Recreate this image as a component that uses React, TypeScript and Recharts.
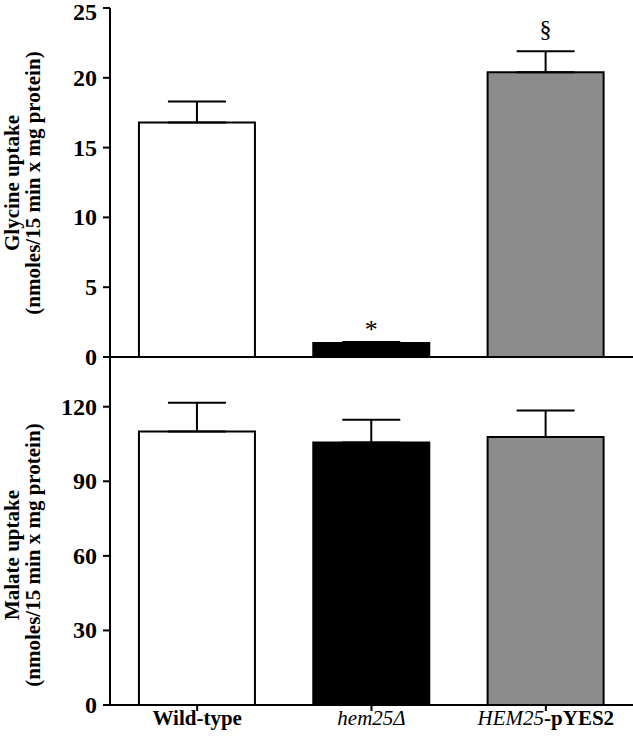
import { BarChart, Bar, XAxis, YAxis, ErrorBar, Cell, LabelList, Label } from 'recharts';

const strains = ['Wild-type', 'hem25Δ', 'HEM25-pYES2'];
const glycine = [16.8, 1.0, 20.4];
const glycineErr = [1.5, 0.08, 1.5];
const malate = [110, 105.6, 107.8];
const malateErr = [11.6, 9.2, 10.7];
const marks = ['', '*', '§'];
const fills = ['#ffffff', '#000000', '#8c8c8c'];
const glycineTicks = [0, 5, 10, 15, 20, 25];
const malateTicks = [0, 30, 60, 90, 120];

const SERIF = '"Liberation Serif", "Times New Roman", serif';

const glyData = strains.map((name, i) => ({ name, value: glycine[i], err: [0, glycineErr[i]], mark: marks[i] }));
const malData = strains.map((name, i) => ({ name, value: malate[i], err: [0, malateErr[i]] }));

const axisStroke = { stroke: '#000', strokeWidth: 2 };

// y tick label, kept inside the page at the very top
const ValueTick = (props: any) => {
  const { x, y, payload } = props;
  return (
    <text x={x} y={Math.max(y, 12)} textAnchor="end" dominantBaseline="central" fontFamily={SERIF} fontSize={24} fontWeight="bold" fill="#000">
      {payload.value}
    </text>
  );
};

const renderMark = (props: any) => {
  const { x, y, width, height, index } = props;
  const m = marks[index];
  if (!m) return null;
  const capY = y - (height / glycine[index]) * glycineErr[index];
  const off = m === '§' ? 14 : 4;
  return (
    <text x={x + width / 2} y={capY - off} textAnchor="middle" fontFamily={SERIF} fontSize={m === '§' ? 24 : 26} fill="#000">
      {m}
    </text>
  );
};

const StrainTick = (props: any) => {
  const { x, y, payload } = props;
  const v: string = payload.value;
  let content;
  if (v === 'Wild-type') content = <tspan fontWeight="bold">{v}</tspan>;
  else if (v.startsWith('hem25')) content = <tspan fontStyle="italic">{v}</tspan>;
  else {
    const [a, b] = v.split('-');
    content = (
      <>
        <tspan fontStyle="italic">{a}</tspan>
        <tspan fontWeight="bold">-{b}</tspan>
      </>
    );
  }
  return (
    <text x={x} y={y} dy={12} textAnchor="middle" fontFamily={SERIF} fontSize={21} fill="#000">
      {content}
    </text>
  );
};

const axisTitle = (line1: string, cy: number) => () => (
  <g fontFamily={SERIF} fontWeight="bold" fontSize={21} fill="#000">
    <text x={12} y={cy} transform={`rotate(-90 12 ${cy})`} textAnchor="middle" dominantBaseline="central">
      {line1}
    </text>
    <text x={33} y={cy} transform={`rotate(-90 33 ${cy})`} textAnchor="middle" dominantBaseline="central">
      (nmoles/15 min x mg protein)
    </text>
  </g>
);

export default function App() {
  return (
    <div style={{ position: 'absolute', left: 0, top: 0, width: 633, height: 739, background: '#fff' }}>
      <style>{'.recharts-surface { overflow: visible; }'}</style>
      <div style={{ position: 'absolute', left: 0, top: 357 }}>
        <BarChart width={633} height={382} data={malData} margin={{ top: 0, right: 0, bottom: 0, left: 0 }} barCategoryGap="16.6%">
          <XAxis
            dataKey="name"
            height={34}
            interval={0}
            tickSize={6}
            tick={<StrainTick />}
            tickLine={axisStroke}
            axisLine={axisStroke}
          />
          <YAxis
            width={110}
            domain={[0, 140]}
            ticks={malateTicks}
            interval={0}
            tickSize={7}
            tickMargin={6}
            tick={<ValueTick />}
            tickLine={axisStroke}
            axisLine={axisStroke}
          >
            <Label content={axisTitle('Malate uptake', 198)} />
          </YAxis>
          <Bar dataKey="value" stroke="#000" strokeWidth={2} isAnimationActive={false}>
            {fills.map((c, i) => (
              <Cell key={i} fill={c} />
            ))}
            <ErrorBar dataKey="err" width={29} stroke="#000" strokeWidth={2} direction="y" />
          </Bar>
        </BarChart>
      </div>
      <div style={{ position: 'absolute', left: 0, top: 0 }}>
        <BarChart width={633} height={358} data={glyData} margin={{ top: 8, right: 0, bottom: 0, left: 0 }} barCategoryGap="16.6%">
          <XAxis dataKey="name" height={1} tick={false} tickLine={false} axisLine={axisStroke} />
          <YAxis
            width={110}
            domain={[0, 25]}
            ticks={glycineTicks}
            interval={0}
            tickSize={7}
            tickMargin={6}
            tick={<ValueTick />}
            tickLine={axisStroke}
            axisLine={axisStroke}
          >
            <Label content={axisTitle('Glycine uptake', 183)} />
          </YAxis>
          <Bar dataKey="value" stroke="#000" strokeWidth={2} isAnimationActive={false}>
            {fills.map((c, i) => (
              <Cell key={i} fill={c} />
            ))}
            <ErrorBar dataKey="err" width={29} stroke="#000" strokeWidth={2} direction="y" />
            <LabelList dataKey="mark" content={renderMark} />
          </Bar>
        </BarChart>
      </div>
    </div>
  );
}
